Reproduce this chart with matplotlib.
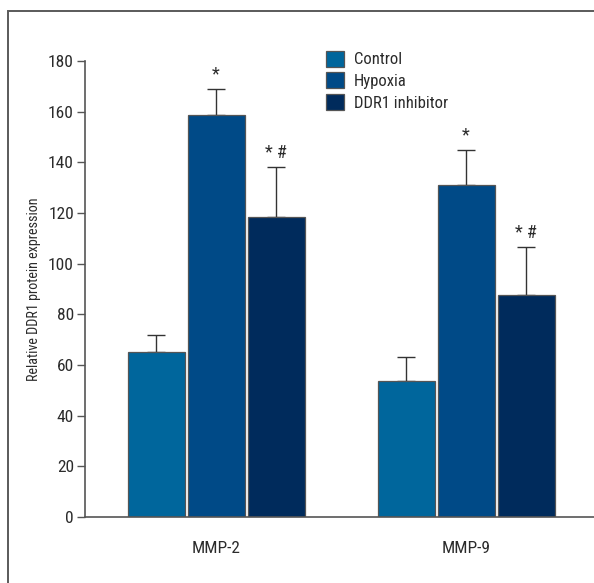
import matplotlib
matplotlib.use("Agg")
import matplotlib.pyplot as plt
from matplotlib.patches import Rectangle
from matplotlib import font_manager
import numpy as np

# data
genes = ["MMP-2", "MMP-9"]
groups = ["Control", "Hypoxia", "DDR1 inhibitor"]
means = {
    "Control":        [65.0, 53.5],
    "Hypoxia":        [158.5, 131.0],
    "DDR1 inhibitor": [118.5, 87.5],
}
errs = {
    "Control":        [7.0, 9.5],
    "Hypoxia":        [10.5, 14.0],
    "DDR1 inhibitor": [19.5, 19.0],
}
marks = {
    "Control":        ["", ""],
    "Hypoxia":        ["*", "*"],
    "DDR1 inhibitor": ["* #", "* #"],
}
colors = {"Control": "#00669c", "Hypoxia": "#004a87", "DDR1 inhibitor": "#002b5c"}
yticks = [0, 20, 40, 60, 80, 100, 120, 140, 160, 180]

names = {f.name for f in font_manager.fontManager.ttflist}
narrow = [n for n in ("Liberation Sans Narrow", "Roboto Condensed", "Open Sans Condensed")
          if n in names]
plt.rcParams["font.family"] = narrow + ["DejaVu Sans"]
plt.rcParams["font.stretch"] = "condensed"
TXT = "#2b2b2b"

fig = plt.figure(figsize=(5.94, 5.83), dpi=100)
# outer frame (only left and top visible in the reference)
fig.patches.append(Rectangle((8 / 594, -0.1), 1.2, (583 - 11) / 583 + 0.1,
                             transform=fig.transFigure, fill=False,
                             edgecolor="#5a5a5a", lw=1.4, clip_on=False))

ax = fig.add_axes([85 / 594, 66 / 583, 1 - 85 / 594, (517 - 61) / 583])

x = np.arange(len(genes))
w, step = 0.228, 0.24
for i, g in enumerate(groups):
    pos = x + (i - 1) * step
    ax.bar(pos, means[g], width=w, color=colors[g], edgecolor="#555555",
           linewidth=0.9, label=g, zorder=2)
    ax.errorbar(pos, means[g], yerr=[np.zeros(len(genes)), errs[g]], fmt="none",
                ecolor="#333333", elinewidth=1.0, capsize=6.5, capthick=1.0, zorder=1)
    for p, m, e, s in zip(pos, means[g], errs[g], marks[g]):
        if s:
            ax.annotate(s, (p, m + e), xytext=(0, 4), textcoords="offset points",
                        ha="center", va="bottom", fontsize=13, color=TXT,
                        annotation_clip=False)

ax.set_xlim(-0.524, 1.512)
ax.set_ylim(0, 180)
ax.set_yticks(yticks)
ax.set_xticks(x)
ax.set_xticklabels(genes)
ax.tick_params(axis="y", length=6, width=1.0, color="#555555", labelcolor=TXT,
               labelsize=12.5, pad=2)
ax.tick_params(axis="x", length=0, labelcolor=TXT, labelsize=12.5, pad=17)
for s in ("top", "right"):
    ax.spines[s].set_visible(False)
for s in ("left", "bottom"):
    ax.spines[s].set_color("#555555")
    ax.spines[s].set_linewidth(1.2)
ax.set_ylabel("Relative DDR1 protein expression", fontsize=10.2, color=TXT, labelpad=5)

leg = ax.legend(loc="upper left", bbox_to_anchor=(0.46, 1.037), frameon=False,
                fontsize=12, handlelength=1.1, handleheight=1.1,
                handletextpad=0.6, labelspacing=0.3, borderaxespad=0)
for t in leg.get_texts():
    t.set_color(TXT)

fig.savefig("out.png", dpi=100)
